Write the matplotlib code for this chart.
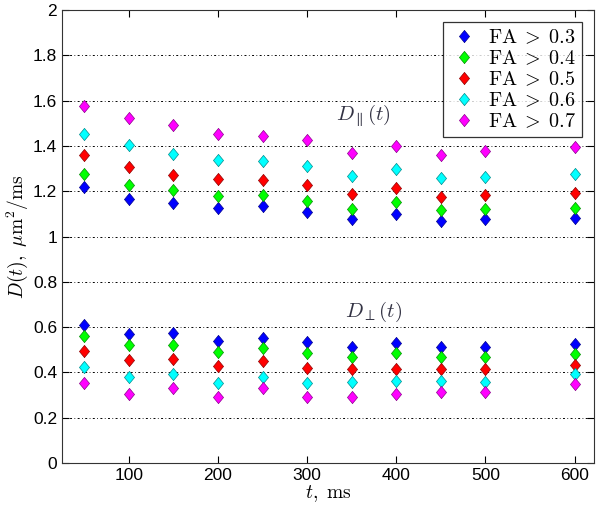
import matplotlib
matplotlib.use("Agg")
import matplotlib.pyplot as plt

# diffusion time, ms
t = [50, 100, 150, 200, 250, 300, 350, 400, 450, 500, 600]

labels = ["0.3", "0.4", "0.5", "0.6", "0.7"]
colors = ["#0000ff", "#00ff00", "#ff0000", "#00ffff", "#ff00ff"]

# D_parallel(t) for each FA threshold
d_par = [
    [1.218, 1.167, 1.149, 1.126, 1.133, 1.108, 1.077, 1.102, 1.068, 1.077, 1.083],
    [1.278, 1.227, 1.204, 1.178, 1.182, 1.158, 1.123, 1.151, 1.116, 1.123, 1.127],
    [1.360, 1.307, 1.274, 1.253, 1.250, 1.228, 1.188, 1.215, 1.176, 1.184, 1.192],
    [1.455, 1.403, 1.367, 1.339, 1.332, 1.314, 1.268, 1.298, 1.258, 1.265, 1.277],
    [1.576, 1.523, 1.495, 1.453, 1.446, 1.425, 1.369, 1.401, 1.361, 1.380, 1.396],
]

# D_perp(t) for each FA threshold
d_perp = [
    [0.610, 0.570, 0.572, 0.539, 0.554, 0.533, 0.514, 0.530, 0.513, 0.514, 0.524],
    [0.561, 0.519, 0.520, 0.492, 0.510, 0.487, 0.467, 0.486, 0.468, 0.468, 0.483],
    [0.496, 0.453, 0.458, 0.427, 0.449, 0.421, 0.413, 0.416, 0.413, 0.413, 0.434],
    [0.422, 0.379, 0.392, 0.354, 0.381, 0.354, 0.357, 0.364, 0.360, 0.359, 0.391],
    [0.354, 0.304, 0.332, 0.292, 0.329, 0.292, 0.293, 0.305, 0.314, 0.314, 0.351],
]

plt.rcParams["mathtext.fontset"] = "cm"
plt.rcParams["font.family"] = ["Liberation Sans", "DejaVu Sans"]

# slightly tall diamond, like the MATLAB marker
diamond = [(0, -1.15), (0.95, 0), (0, 1.15), (-0.95, 0), (0, -1.15)]

fig = plt.figure(figsize=(6.02, 5.11), dpi=100)
ax = fig.add_axes([0.103, 0.094, 0.884, 0.886])

for lab, c, par, perp in zip(labels, colors, d_par, d_perp):
    edge = tuple(0.55 * v for v in matplotlib.colors.to_rgb(c))
    ax.plot(t, par, linestyle="none", marker=diamond, markersize=8.8,
            markerfacecolor=c, markeredgecolor=edge, markeredgewidth=0.5,
            label=r"$\mathrm{FA}\;>\;%s$" % lab)
    ax.plot(t, perp, linestyle="none", marker=diamond, markersize=8.8,
            markerfacecolor=c, markeredgecolor=edge, markeredgewidth=0.5)

ax.set_xlim(25, 622)
ax.set_ylim(0, 2)
ax.set_xticks([100, 200, 300, 400, 500, 600])
ax.set_yticks([0, 0.2, 0.4, 0.6, 0.8, 1, 1.2, 1.4, 1.6, 1.8, 2])
ax.set_yticklabels(["0", "0.2", "0.4", "0.6", "0.8", "1", "1.2", "1.4", "1.6", "1.8", "2"])
ax.tick_params(direction="in", top=True, right=True, labelsize=12.5, length=5, width=0.8)
ax.yaxis.grid(True, color="black", linestyle=(0, (2, 2.5, 0.8, 2.5)), linewidth=0.7)
for s in ax.spines.values():
    s.set_linewidth(0.8)
    s.set_color("#333333")

ax.set_xlabel(r"$t,\ \mathrm{ms}$", fontsize=14, labelpad=0)
ax.set_ylabel(r"$D(t),\ \mu\mathrm{m}^2/\mathrm{ms}$", fontsize=14, labelpad=2)

ax.text(332, 1.535, r"$D_{\parallel}(t)$", fontsize=15, color="#333344", ha="left", va="center")
ax.text(342, 0.668, r"$D_{\perp}(t)$", fontsize=15, color="#333344", ha="left", va="center")

leg = ax.legend(loc="upper right", fontsize=14.5, frameon=True, fancybox=False,
                borderaxespad=0.6, handletextpad=0.5, labelspacing=0.1,
                handlelength=1.4, borderpad=0.3)
leg.get_frame().set_edgecolor("black")
leg.get_frame().set_linewidth(0.9)

fig.savefig("out.png", dpi=100)
